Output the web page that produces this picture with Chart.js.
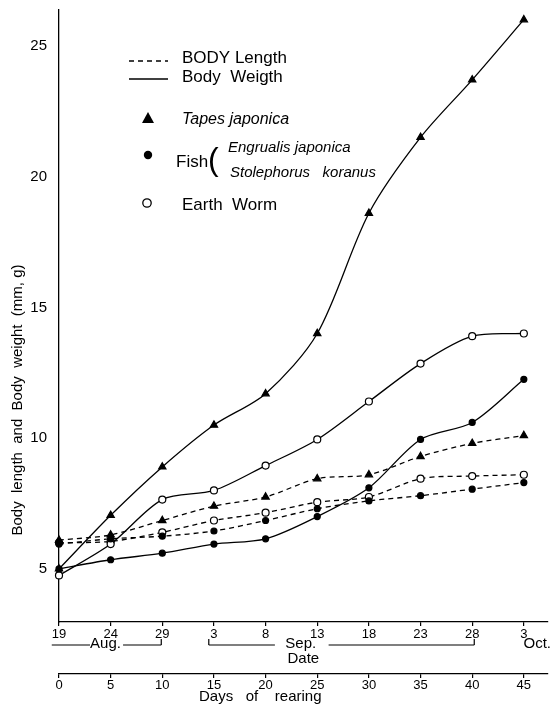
<!DOCTYPE html>
<html>
<head>
<meta charset="utf-8">
<script src="https://cdn.jsdelivr.net/npm/chart.js@4/dist/chart.umd.min.js"></script>
<style>
  html, body { margin: 0; padding: 0; background: #fff; }
  canvas { display: block; }
</style>
</head>
<body>
<canvas id="c" width="553" height="704"></canvas>
<script>
// ---- data ----
const days = [0, 5, 10, 15, 20, 25, 30, 35, 40, 45];
const dateLabels = ['19', '24', '29', '3', '8', '13', '18', '23', '28', '3'];
const monthLabels = ['Aug.', 'Sep.', 'Oct.'];
const yTicks = [5, 10, 15, 20, 25];

const tapesWeight = [5.0, 7.05, 8.9, 10.5, 11.7, 14.0, 18.6, 21.5, 23.7, 26.0];
const tapesLength = [6.1, 6.3, 6.85, 7.4, 7.75, 8.45, 8.6, 9.3, 9.8, 10.1];
const fishWeight  = [5.0, 5.35, 5.6, 5.95, 6.15, 7.0, 8.1, 9.95, 10.6, 12.25];
const fishLength  = [5.95, 6.15, 6.25, 6.45, 6.85, 7.3, 7.6, 7.8, 8.05, 8.3];
const wormWeight  = [4.75, 5.95, 7.65, 8.0, 8.95, 9.95, 11.4, 12.85, 13.9, 14.0];
const wormLength  = [6.0, 6.05, 6.4, 6.85, 7.15, 7.55, 7.75, 8.45, 8.55, 8.6];

const FONT = '"Liberation Sans", Arial, sans-serif';

function pts(arr) { return days.map((d, i) => ({ x: d, y: arr[i] })); }

function ds(label, arr, dashed, style) {
  const base = {
    label: label,
    data: pts(arr),
    borderColor: '#000',
    borderWidth: 1.3,
    borderDash: dashed ? [5, 4] : [],
    tension: 0.3,
    fill: false,
    clip: false,
    pointBorderColor: '#000',
    pointBorderWidth: 1.2
  };
  if (style === 'tri') {
    base.pointStyle = 'triangle'; base.pointRadius = 4.2; base.pointBackgroundColor = '#000';
  } else if (style === 'dot') {
    base.pointStyle = 'circle'; base.pointRadius = 3; base.pointBackgroundColor = '#000';
  } else {
    base.pointStyle = 'circle'; base.pointRadius = 3.5; base.pointBackgroundColor = '#fff';
  }
  return base;
}

function noPad(s) { s.paddingTop = 0; s.paddingBottom = 0; s.paddingLeft = 0; s.paddingRight = 0; }

const annot = {
  id: 'annot',
  afterDraw(chart) {
    const ctx = chart.ctx;
    const xs = chart.scales.x;
    ctx.save();
    ctx.fillStyle = '#000';
    ctx.strokeStyle = '#000';
    ctx.lineWidth = 1.2;
    const line = (x1, y1, x2, y2) => { ctx.beginPath(); ctx.moveTo(x1, y1); ctx.lineTo(x2, y2); ctx.stroke(); };

    // y-axis title
    ctx.save();
    ctx.translate(18, 400);
    ctx.rotate(-Math.PI / 2);
    ctx.font = '15px ' + FONT;
    ctx.textAlign = 'center';
    ctx.textBaseline = 'middle';
    ctx.fillText('Body  length  and  Body  weight  (mm, g)', 0, 0);
    ctx.restore();

    // month brackets under date axis
    const my = 645;
    ctx.font = '15px ' + FONT;
    ctx.textBaseline = 'middle';
    ctx.textAlign = 'center';
    const px = v => xs.getPixelForValue(v);
    // Aug
    line(px(-0.7), my, px(3.0), my);
    ctx.fillText(monthLabels[0], px(4.5), my - 1);
    line(px(6.2), my, px(9.9), my);
    line(px(9.9), my, px(9.9), my - 6);
    // Sep
    line(px(14.5), my - 6, px(14.5), my);
    line(px(14.5), my, px(20.9), my);
    ctx.fillText(monthLabels[1], px(23.4), my - 1);
    line(px(26.1), my, px(40.2), my);
    line(px(40.2), my, px(40.2), my - 6);
    // Oct
    ctx.fillText(monthLabels[2], px(46.3), my - 1);

    // days title
    ctx.textAlign = 'left';
    ctx.fillText('Days   of    rearing', 199, 697);

    // legend
    ctx.lineWidth = 1.3;
    ctx.setLineDash([5, 4]);
    line(129, 61, 168, 61);
    ctx.setLineDash([]);
    line(129, 79, 168, 79);
    ctx.textAlign = 'left';
    ctx.font = '17px ' + FONT;
    ctx.fillText('BODY Length', 182, 58);
    ctx.fillText('Body  Weigth', 182, 77);

    // triangle
    ctx.beginPath();
    ctx.moveTo(148, 112); ctx.lineTo(154, 123); ctx.lineTo(142, 123); ctx.closePath(); ctx.fill();
    ctx.font = 'italic 16px ' + FONT;
    ctx.fillText('Tapes japonica', 182, 120);

    // filled circle
    ctx.beginPath(); ctx.arc(148, 155, 4.2, 0, Math.PI * 2); ctx.fill();
    ctx.font = '17px ' + FONT;
    ctx.fillText('Fish', 176, 162);
    ctx.font = '32px ' + FONT;
    ctx.fillText('(', 208, 161);
    ctx.font = 'italic 15px ' + FONT;
    ctx.fillText('Engrualis japonica', 228, 148);
    ctx.fillText('Stolephorus   koranus', 230, 173);

    // open circle
    ctx.beginPath(); ctx.arc(147, 203, 4.2, 0, Math.PI * 2);
    ctx.fillStyle = '#fff'; ctx.fill(); ctx.stroke();
    ctx.fillStyle = '#000';
    ctx.font = '17px ' + FONT;
    ctx.fillText('Earth  Worm', 182, 205);

    ctx.restore();
  }
};

new Chart(document.getElementById('c'), {
  type: 'line',
  data: {
    datasets: [
      ds('Tapes japonica – Body Weigth', tapesWeight, false, 'tri'),
      ds('Tapes japonica – BODY Length', tapesLength, true, 'tri'),
      ds('Fish – Body Weigth', fishWeight, false, 'dot'),
      ds('Fish – BODY Length', fishLength, true, 'dot'),
      ds('Earth Worm – Body Weigth', wormWeight, false, 'open'),
      ds('Earth Worm – BODY Length', wormLength, true, 'open')
    ]
  },
  options: {
    responsive: false,
    animation: false,
    layout: { padding: { top: 10, right: 3, left: 0, bottom: 0 } },
    plugins: { legend: { display: false }, tooltip: { enabled: false } },
    scales: {
      x: {
        type: 'linear',
        position: 'bottom',
        min: 0,
        max: 47.3,
        afterBuildTicks: s => { s.ticks = days.map(v => ({ value: v })); },
        afterFit: s => { s.height = 52; noPad(s); },
        grid: { drawOnChartArea: false, color: '#000', tickLength: 4, lineWidth: 1.2 },
        border: { color: '#000', width: 1.3 },
        ticks: {
          color: '#000',
          font: { size: 13, family: FONT },
          padding: 1,
          maxRotation: 0,
          autoSkip: false,
          callback: (v, i) => dateLabels[i]
        },
        title: { display: true, text: 'Date', color: '#000', font: { size: 15, family: FONT }, padding: { top: 0, bottom: 6 } }
      },
      x2: {
        type: 'linear',
        position: 'bottom',
        min: 0,
        max: 47.3,
        afterBuildTicks: s => { s.ticks = days.map(v => ({ value: v })); },
        afterFit: s => { s.height = 30; noPad(s); },
        grid: { drawOnChartArea: false, color: '#000', tickLength: 4, lineWidth: 1.2 },
        border: { color: '#000', width: 1.3 },
        ticks: {
          color: '#000',
          font: { size: 13, family: FONT },
          padding: 0,
          maxRotation: 0,
          autoSkip: false
        }
      },
      y: {
        type: 'linear',
        min: 2.97,
        max: 26.37,
        afterBuildTicks: s => { s.ticks = yTicks.map(v => ({ value: v })); },
        afterFit: s => { s.width = 59; noPad(s); },
        grid: { drawOnChartArea: false, drawTicks: false },
        border: { color: '#000', width: 1.3 },
        ticks: { color: '#000', font: { size: 15, family: FONT }, padding: 12 }
      }
    }
  },
  plugins: [annot]
});
</script>
</body>
</html>
